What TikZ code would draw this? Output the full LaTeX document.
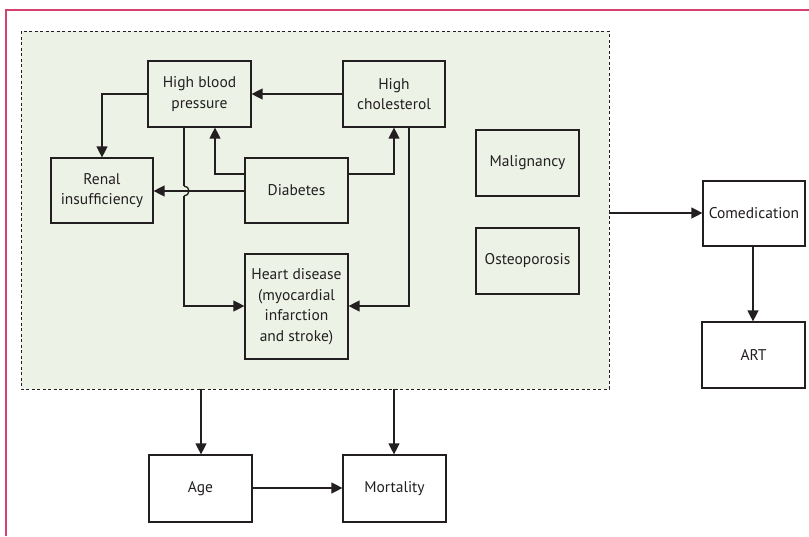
\documentclass[tikz,border=0pt]{standalone}
\usepackage{fontspec}
\setmainfont{PT Sans}
\usetikzlibrary{arrows.meta}
\definecolor{pinkline}{HTML}{D6416F}
\definecolor{greenfill}{HTML}{ECF3E6}
\definecolor{ink}{HTML}{231F20}
\begin{document}
\begin{tikzpicture}[x=1pt,y=-1pt,
  box/.style={draw=ink,line width=1.2pt,fill=#1,inner sep=0pt,align=center,font=\fontsize{15.5}{20.5}\selectfont,text=ink},
  box/.default=greenfill,
  line/.style={draw=ink,line width=1.3pt},
  conn/.style={line,-{Triangle[length=11pt,width=11pt]}}]
\useasboundingbox (0,0) rectangle (809,536);
% pink frame
\draw[pinkline,line width=1.3pt] (809,10) -- (6,10) -- (6,536);
% dashed group
\draw[fill=greenfill,draw=ink,line width=1pt,dash pattern=on 3pt off 2.5pt] (21,31) rectangle (609,389);
\coordinate (grpR) at (609,213);
\coordinate (grpB1) at (201,389);
\coordinate (grpB2) at (394,389);
% nodes
\node[box,minimum width=103pt,minimum height=66pt] (hbp) at (199.5,94) {High blood\\pressure};
\node[box,minimum width=102pt,minimum height=66pt] (hc) at (394,94) {High\\cholesterol};
\node[box,minimum width=102pt,minimum height=65pt] (ren) at (102,190.5) {Renal\\insufficiency};
\node[box,minimum width=103pt,minimum height=65pt] (dia) at (296.5,190.5) {Diabetes};
\node[box,minimum width=103pt,minimum height=105pt] (hd) at (296.5,306.5) {Heart disease\\(myocardial\\infarction\\and stroke)};
\node[box,minimum width=103pt,minimum height=66pt] (mal) at (527.5,163) {Malignancy};
\node[box,minimum width=103pt,minimum height=66pt] (ost) at (527.5,261) {Osteoporosis};
\node[box=white,minimum width=102pt,minimum height=65pt] (com) at (754,213.5) {Comedication};
\node[box=white,minimum width=103pt,minimum height=66pt] (art) at (753.5,355) {ART};
\node[box=white,minimum width=103pt,minimum height=67pt] (age) at (200.5,488.5) {Age};
\node[box=white,minimum width=103pt,minimum height=67pt] (mort) at (394.5,488.5) {Mortality};
\coordinate (hop1) at (184,186);
\coordinate (hop2) at (184,196);
\coordinate (cart) at (753,0);
\coordinate (amy) at (0,488);
% connectors
\draw[conn] (hbp.west) -| (ren.north);
\draw[conn] (hc.west) -- (hbp.east);
\draw[conn] (dia.west |- 0,174) -| (hbp.south -| 215,0);
\draw[conn] (dia.east |- 0,174) -| (hc.south);
\draw[conn] (dia.west |- 0,191) -- (ren.east |- 0,191);
\draw[line] (hbp.south -| hop1) -- (hop1);
\draw[line] (hop1) arc[start angle=-90,end angle=90,radius=5];
\draw[conn] (hop2) -- (184,306) -- (hd.west |- 0,306);
\draw[conn] (hc.south -| 409,0) -- (409,306) -- (hd.east |- 0,306);
\draw[conn] (grpR) -- (com.west |- grpR);
\draw[conn] (com.south -| cart) -- (art.north -| cart);
\draw[conn] (grpB1) -- (age.north -| grpB1);
\draw[conn] (grpB2) -- (mort.north -| grpB2);
\draw[conn] (age.east |- amy) -- (mort.west |- amy);
\end{tikzpicture}
\end{document}
